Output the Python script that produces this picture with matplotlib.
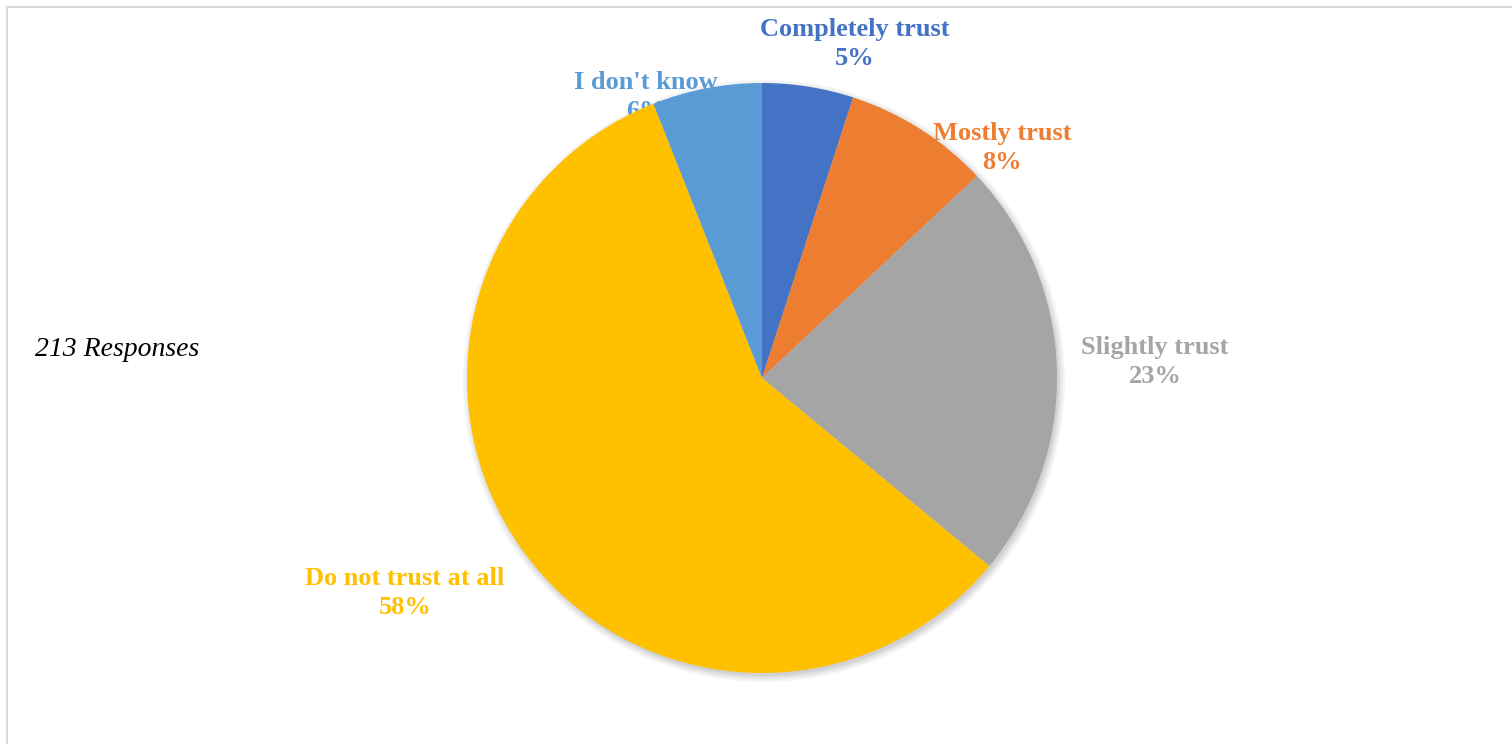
import matplotlib
matplotlib.use("Agg")
import matplotlib.pyplot as plt
from matplotlib.patches import Rectangle, Circle

categories = ["Completely trust", "Mostly trust", "Slightly trust", "Do not trust at all", "I don't know"]
values = [5, 8, 23, 58, 6]
colors = ["#4472C4", "#ED7D31", "#A5A5A5", "#FFC000", "#5B9BD5"]
note = "213 Responses"

W, H = 1512, 744
fig = plt.figure(figsize=(W / 100, H / 100), dpi=100)
ax = fig.add_axes([0, 0, 1, 1])
ax.set_xlim(0, W)
ax.set_ylim(0, H)
ax.axis("off")

cx, cy, r = 762, H - 378, 295

# soft shadow
for i, a in enumerate([0.04, 0.04, 0.05, 0.06]):
    ax.add_patch(Circle((cx + 2, cy - 3), r + 6 - i * 2, color="#000000", alpha=a, lw=0, zorder=1))

wedges, _ = ax.pie(values, colors=colors, startangle=90, counterclock=False,
                   center=(cx, cy), radius=r, frame=True,
                   wedgeprops=dict(linewidth=0, zorder=3))
for w in wedges:
    w.set_zorder(3)
ax.set_xlim(0, W)
ax.set_ylim(0, H)
ax.set_aspect("auto")
ax.axis("off")

label_pos = [(855, 44), (1002, 148), (1155, 362), (405, 593), (646, 97)]
for cat, v, c, (lx, ly) in zip(categories, values, colors, label_pos):
    ax.text(lx, H - ly, f"{cat}\n{v}%", color=c, fontsize=19, fontweight="bold",
            family="Liberation Serif", ha="center", va="center", linespacing=1.35, zorder=2)

ax.text(35, H - 349, note, fontsize=20, style="italic", family="Liberation Serif",
        ha="left", va="center", color="black")

fig.patches.append(Rectangle((7 / W, -0.1), 1.2, (H - 7) / H + 0.1, transform=fig.transFigure,
                             fill=False, edgecolor="#D9D9D9", linewidth=1.5))

fig.savefig("out.png", dpi=100)
